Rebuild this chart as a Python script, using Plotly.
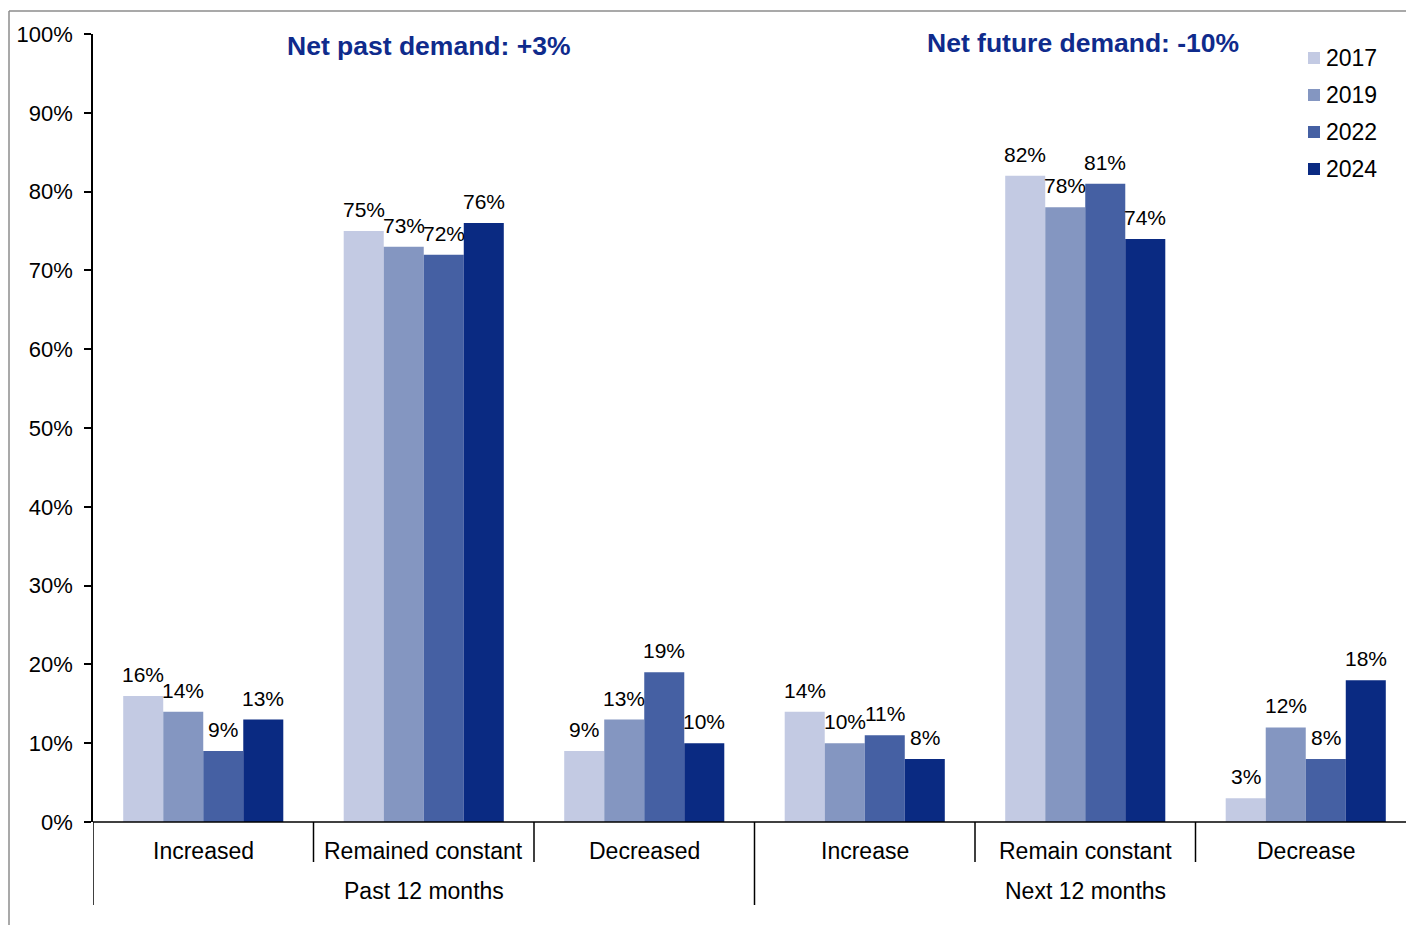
import plotly.graph_objects as go

# Survey answers, share of respondents (%)
categories = ["Increased", "Remained constant", "Decreased",
              "Increase", "Remain constant", "Decrease"]
periods = ["Past 12 months", "Next 12 months"]
years = ["2017", "2019", "2022", "2024"]
values_2017 = [16, 75, 9, 14, 82, 3]
values_2019 = [14, 73, 13, 10, 78, 12]
values_2022 = [9, 72, 19, 11, 81, 8]
values_2024 = [13, 76, 10, 8, 74, 18]
colors = ["#C3CAE3", "#8496C1", "#4560A3", "#0A2A82"]
y_ticks = [0, 10, 20, 30, 40, 50, 60, 70, 80, 90, 100]
headline_past = "Net past demand: +3%"
headline_future = "Net future demand: -10%"

FONT = "Liberation Sans, Arial, sans-serif"
W, H = 1406, 925
ML, MT, MB, MR = 93, 34, 103, 0
plot_w = W - ML - MR
plot_h = H - MT - MB
cat_w = 220.5          # pixel width of one category slot
bar_gap = 0.274        # fraction of a slot left empty between groups
bar_w = (1 - bar_gap) / len(years)


def px_x(px):
    return (px - ML) / plot_w


def px_y(py):
    return (H - MB - py) / plot_h


series = [values_2017, values_2019, values_2022, values_2024]
xpos = list(range(len(categories)))

fig = go.Figure()
for name, vals, col in zip(years, series, colors):
    fig.add_trace(go.Bar(
        x=xpos, y=vals, name=name,
        marker=dict(color=col, line=dict(width=0)),
        showlegend=False,
    ))

x_end = plot_w / cat_w - 0.5

fig.update_layout(
    width=W, height=H,
    margin=dict(l=ML, r=MR, t=MT, b=MB, pad=0),
    paper_bgcolor="white", plot_bgcolor="white",
    font=dict(family=FONT, size=20, color="#000000"),
    barmode="group", bargap=bar_gap, bargroupgap=0,
    showlegend=False,
    xaxis=dict(range=[-0.5, x_end], showticklabels=False, showgrid=False,
               zeroline=False, showline=False, ticks=""),
    yaxis=dict(range=[0, 100], tickvals=y_ticks,
               ticktext=[f"{v}%" for v in y_ticks],
               showgrid=False, zeroline=False, showline=True,
               linecolor="#000000", linewidth=1.5,
               ticks="outside", ticklen=7, tickcolor="#000000", tickwidth=1.5,
               tickfont=dict(family=FONT, size=22, color="#000000"),
               ticklabelstandoff=7),
)

shapes = []
# x axis baseline
shapes.append(dict(type="line", xref="paper", yref="paper", x0=0, x1=1,
                   y0=0, y1=0, line=dict(color="#000000", width=1.5)))
# category separators
for xs in [0.5, 1.5, 3.5, 4.5]:
    shapes.append(dict(type="line", xref="x", yref="paper", x0=xs, x1=xs,
                       y0=0, y1=px_y(862), line=dict(color="#000000", width=1.5)))
# period separators
for xs in [-0.5, 2.5]:
    shapes.append(dict(type="line", xref="x", yref="paper", x0=xs, x1=xs,
                       y0=0, y1=px_y(905), line=dict(color="#000000", width=1.5)))
# outer frame
shapes.append(dict(type="line", xref="paper", yref="paper",
                   x0=px_x(9), x1=px_x(1410), y0=px_y(11), y1=px_y(11),
                   line=dict(color="#8C8C8C", width=1.5)))
shapes.append(dict(type="line", xref="paper", yref="paper",
                   x0=px_x(9), x1=px_x(9), y0=px_y(11), y1=px_y(930),
                   line=dict(color="#8C8C8C", width=1.5)))

annotations = []
# value labels above each bar
for k, vals in enumerate(series):
    offset = (k - (len(years) - 1) / 2) * bar_w
    for i, v in enumerate(vals):
        annotations.append(dict(x=i + offset, y=v, xref="x", yref="y",
                                text=f"{v}%", showarrow=False,
                                xanchor="center", yanchor="bottom", yshift=8,
                                font=dict(family=FONT, size=21, color="#000000")))
for i, c in enumerate(categories):
    annotations.append(dict(x=i, y=px_y(851), xref="x", yref="paper",
                            text=c, showarrow=False, xanchor="center",
                            yanchor="middle",
                            font=dict(family=FONT, size=23, color="#000000")))
for i, p in enumerate(periods):
    annotations.append(dict(x=1 + 3 * i, y=px_y(891), xref="x", yref="paper",
                            text=p, showarrow=False, xanchor="center",
                            yanchor="middle",
                            font=dict(family=FONT, size=23, color="#000000")))
annotations.append(dict(x=px_x(428), y=px_y(46), xref="paper", yref="paper",
                        text=f"<b>{headline_past}</b>", showarrow=False,
                        xanchor="center", yanchor="middle",
                        font=dict(family=FONT, size=26.5, color="#0F2B8C")))
annotations.append(dict(x=px_x(1083), y=px_y(43), xref="paper", yref="paper",
                        text=f"<b>{headline_future}</b>", showarrow=False,
                        xanchor="center", yanchor="middle",
                        font=dict(family=FONT, size=26.5, color="#0F2B8C")))

# legend keys: small square plus year label
for k, (name, col) in enumerate(zip(years, colors)):
    cy = 58 + 37 * k
    shapes.append(dict(type="rect", xref="paper", yref="paper",
                       x0=px_x(1308), x1=px_x(1320),
                       y0=px_y(cy + 6), y1=px_y(cy - 6),
                       fillcolor=col, line=dict(width=0)))
    annotations.append(dict(x=px_x(1324), y=px_y(cy), xref="paper", yref="paper",
                            text=name, showarrow=False, xanchor="left",
                            yanchor="middle",
                            font=dict(family=FONT, size=23, color="#000000")))

fig.update_layout(shapes=shapes, annotations=annotations)

fig.write_html("out.html")
